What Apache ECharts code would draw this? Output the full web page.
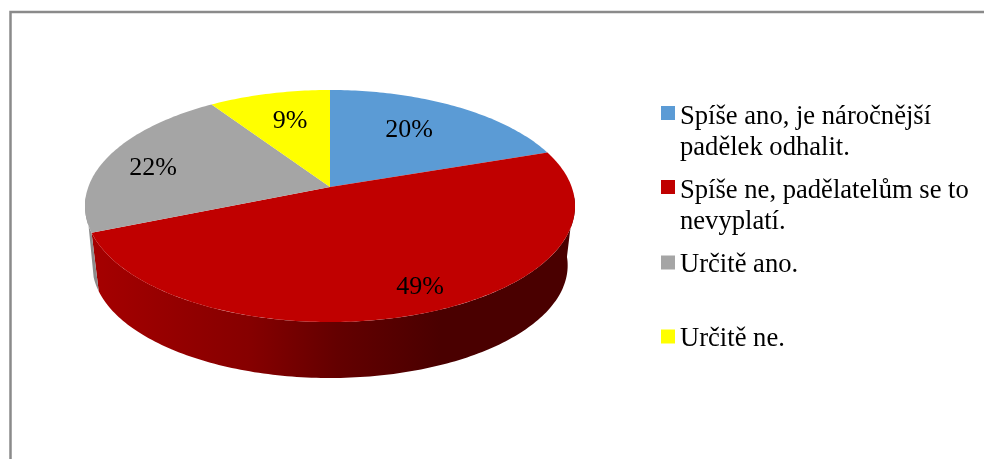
<!DOCTYPE html>
<html>
<head>
<meta charset="utf-8">
<style>
  html, body { margin: 0; padding: 0; background: #fff; }
  #one { width: 984px; height: 459px; }
</style>
<script src="https://cdn.jsdelivr.net/npm/echarts@6/dist/echarts.min.js"></script>
</head>
<body>
<div id="one"></div>
<script>
var categories = ['Spíše ano, je náročnější\npadělek odhalit.', 'Spíše ne, padělatelům se to\nnevyplatí.', 'Určitě ano.', 'Určitě ne.'];
var values = [19.8, 49, 21.8, 9.4];
var colors = ['#5B9BD5', '#C00000', '#A5A5A5', '#FFFF00'];
var labelPos = [[409, 130], [420, 287], [153, 168], [290, 121]];
var legendTops = [103.5, 177.5, 252, 326];

var myChart = echarts.init(document.getElementById('one'));
var FONT = '"Liberation Serif", "Times New Roman", serif';

// the pie is tilted with perspective, so its centre sits above the middle of the ellipse
var cx = 330, cy = 187, scaleX = 241.7, scaleY = 112.9, persp = 0.164;
var baseScale = 0.97, baseY = 247;
var total = 0;
values.forEach(function (v) { total += v; });

function project(deg, s, y0) {
    var a = deg * Math.PI / 180;
    var w = 1 + persp * Math.cos(a);
    return [cx + s * scaleX * Math.sin(a) / w, y0 - s * scaleY * Math.cos(a) / w];
}

function arc(from, to, s, y0) {
    var pts = [];
    var n = Math.max(2, Math.ceil(Math.abs(to - from)));
    for (var i = 0; i <= n; i++) {
        pts.push(project(from + (to - from) * i / n, s, y0));
    }
    return pts;
}

function sideFill(index) {
    if (index === 2) {
        return new echarts.graphic.LinearGradient(84, 0, 100, 0, [
            { offset: 0, color: '#8f8f8f' }, { offset: 1, color: '#8a8a8a' }
        ], true);
    }
    return new echarts.graphic.LinearGradient(92, 0, 440, 0, [
        { offset: 0, color: '#a50000' },
        { offset: 0.45, color: '#860000' },
        { offset: 0.7, color: '#640000' },
        { offset: 1, color: '#4a0000' }
    ], true);
}

function makeRender(index) {
    return function (params, api) {
        var before = 0;
        for (var i = 0; i < index; i++) { before += values[i]; }
        var start = before / total * 360;
        var end = (before + api.value(0)) / total * 360;
        var children = [];

        // side wall, only the part turned towards the viewer
        var from = Math.max(start, 95), to = Math.min(end, 265);
        if (from < to) {
            // the grey sliver on the left narrows to the corner of the red wall
            var bottomTo = index === 2 ? from + 7 : to;
            var wall = arc(from, to, 1, cy).concat(arc(bottomTo, from, baseScale, baseY));
            children.push({
                type: 'polygon',
                shape: { points: wall },
                style: { fill: sideFill(index) }
            });
        }
        children.push({
            type: 'polygon',
            shape: { points: [[cx, cy]].concat(arc(start, end, 1, cy)) },
            style: { fill: colors[index] }
        });
        children.push({
            type: 'text',
            style: {
                text: Math.round(api.value(0)) + '%',
                x: labelPos[index][0], y: labelPos[index][1],
                align: 'center', verticalAlign: 'middle',
                font: '26px ' + FONT, fill: '#000'
            }
        });
        return { type: 'group', children: children };
    };
}

var series = categories.map(function (name, i) {
    return {
        type: 'custom',
        name: name,
        coordinateSystem: 'none',
        silent: true,
        animation: false,
        itemStyle: { color: colors[i] },
        data: [[values[i]]],
        renderItem: makeRender(i)
    };
});

var legends = categories.map(function (name, i) {
    var twoLines = name.indexOf('\n') >= 0;
    return {
        left: 661,
        top: legendTops[i],
        padding: 0,
        icon: 'rect',
        itemWidth: 14,
        itemHeight: 14,
        selectedMode: false,
        data: [name],
        // rich text, plain text ignores the top padding when it is centred
        formatter: function (n) {
            return n.split('\n').map(function (line) { return '{t|' + line + '}'; }).join('\n');
        },
        textStyle: {
            // keeps the swatch level with the first line
            padding: [twoLines ? 39 : 6, 0, 0, 0],
            rich: {
                t: { fontFamily: FONT, fontSize: 26.6, lineHeight: 31, color: '#000' }
            }
        }
    };
});

var option = {
    backgroundColor: '#FFFFFF',
    animation: false,
    tooltip: { show: false },
    legend: legends,
    graphic: [{
        type: 'rect',
        shape: { x: 10.5, y: 12, width: 1000, height: 500 },
        style: { fill: 'none', stroke: '#8a8a8a', lineWidth: 2.5 },
        silent: true
    }],
    series: series
};
myChart.setOption(option, true);
</script>
</body>
</html>
